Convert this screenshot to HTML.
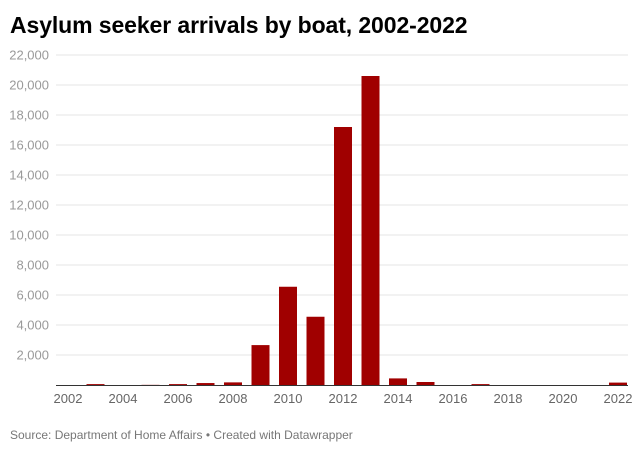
<!DOCTYPE html>
<html><head><meta charset="utf-8"><style>
body{margin:0;background:#fff;font-family:"Liberation Sans",sans-serif;}
#wrap{position:relative;width:640px;height:452px;overflow:hidden;}
#title{position:absolute;left:10px;top:12px;font-size:23px;font-weight:bold;color:#000;letter-spacing:-0.1px;}
#src{position:absolute;left:10px;top:428px;font-size:12px;color:#777;}
</style></head><body>
<div id="wrap">
<div id="title">Asylum seeker arrivals by boat, 2002-2022</div>
<svg id="chart" width="640" height="452" style="position:absolute;left:0;top:0"></svg>
<div id="src">Source: Department of Home Affairs • Created with Datawrapper</div>
</div>
<script>
const years=[2002,2003,2004,2005,2006,2007,2008,2009,2010,2011,2012,2013,2014,2015,2016,2017,2018,2019,2020,2021,2022];
const arrivals=[0,60,0,10,60,130,175,2660,6550,4550,17200,20600,440,200,0,60,0,0,0,0,160];
const yTicks=[2000,4000,6000,8000,10000,12000,14000,16000,18000,20000,22000];
const xTickYears=[2002,2004,2006,2008,2010,2012,2014,2016,2018,2020,2022];
const NS="http://www.w3.org/2000/svg";
const svg=document.getElementById('chart');
const y0=385,pxPer=30/2000;
function y(v){return y0-v*pxPer;}
const x0=68,step=27.5,bw=18;
function x(yr){return x0+(yr-2002)*step;}
function el(t,a){const e=document.createElementNS(NS,t);for(const k in a)e.setAttribute(k,a[k]);svg.appendChild(e);return e;}
yTicks.forEach(v=>{
  const g=el('line',{x1:56,x2:628,y1:y(v),y2:y(v),stroke:'#e6e6e6','stroke-width':1});
  
  
  const t=el('text',{x:49,y:y(v)+4.5,'text-anchor':'end','font-size':13,fill:'#999','font-family':'Liberation Sans, sans-serif'});
  t.textContent=v.toLocaleString('en-US');
  
  
});
years.forEach((yr,i)=>{
  const v=arrivals[i];
  const r=el('rect',{x:x(yr)-bw/2,y:y(v),width:bw,height:y0-y(v),fill:'#a00000'});
  
  
});
const b=el('line',{x1:56,x2:628,y1:y0+0.5,y2:y0+0.5,stroke:'#333','stroke-width':1});


xTickYears.forEach(yr=>{
  const t=el('text',{x:x(yr),y:403,'text-anchor':'middle','font-size':13,fill:'#666','font-family':'Liberation Sans, sans-serif'});
  t.textContent=yr;
  
  
});
</script>
</body></html>
